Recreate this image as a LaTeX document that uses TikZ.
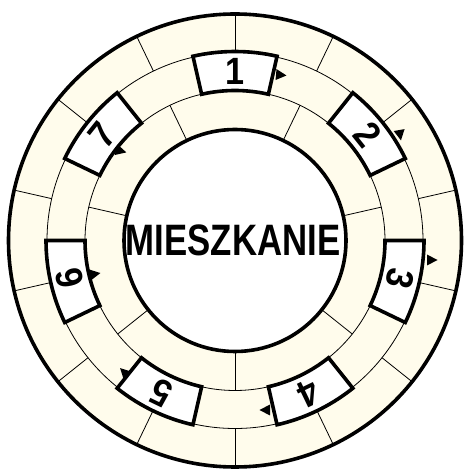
\documentclass[tikz,border=0pt]{standalone}
\usepackage{fontspec}
\setmainfont{Liberation Sans}
\usepackage{graphicx}
\usetikzlibrary{calc}
\definecolor{boardfill}{RGB}{255,252,236}

\begin{document}
\begin{tikzpicture}[x=1pt,y=1pt,
  thinline/.style={line width=0.8pt},
  thickline/.style={line width=3.6pt},
  numbox/.style={draw,fill=white,line width=3.6pt,line join=miter},
  numlbl/.style={font=\fontsize{38}{38}\selectfont\bfseries,inner sep=0pt},
  tip/.style={fill=black}]
\useasboundingbox (0,0) rectangle (465,473);
\coordinate (c) at (235,232.5);
% board rings
\fill[boardfill] (c) circle (226.5);
\fill[white] (c) circle (111);
\draw[thinline] (c) circle (188) (c) circle (150);
\foreach \k in {0,...,13}
  \draw[thinline] ($(c)+({90+\k*360/14}:188)$) -- ($(c)+({90+\k*360/14}:226.5)$);
\foreach \k in {0,...,6}
  \draw[thinline] ($(c)+({90/7+\k*360/7}:111)$) -- ($(c)+({90/7+\k*360/7}:150)$);
% direction marks
\foreach \x/\y/\d in {281/398/-5, 400/338/-80, 432/213/0, 265/63/180,
                      124/101/135, 95/199/10, 121/322/-15}
  \fill[tip,shift={(\x,\y)},rotate=\d] (5.5,0) -- (-5,5.5) -- (-5,-5.5) -- cycle;
% numbered fields
\foreach \k in {1,...,7}{
  \pgfmathsetmacro{\a}{90-(\k-1)*360/7}
  \draw[numbox] ($(c)+({\a-90/7}:150)$)
    arc[start angle=\a-90/7, end angle=\a+90/7, radius=150]
    -- ($(c)+({\a+90/7}:189)$)
    arc[start angle=\a+90/7, end angle=\a-90/7, radius=189] -- cycle;
  \node[numlbl,rotate=\a-90] (n\k) at ($(c)+(\a:169.5)$) {\scalebox{0.9}[1]{\k}};
}
\draw[thickline] (c) circle (226.5) (c) circle (111);
\node[font=\fontsize{44}{44}\selectfont\bfseries] (home) at ($(c)+(-2,0)$)
  {\scalebox{0.79}[1]{MIESZKANIE}};
\end{tikzpicture}
\end{document}
